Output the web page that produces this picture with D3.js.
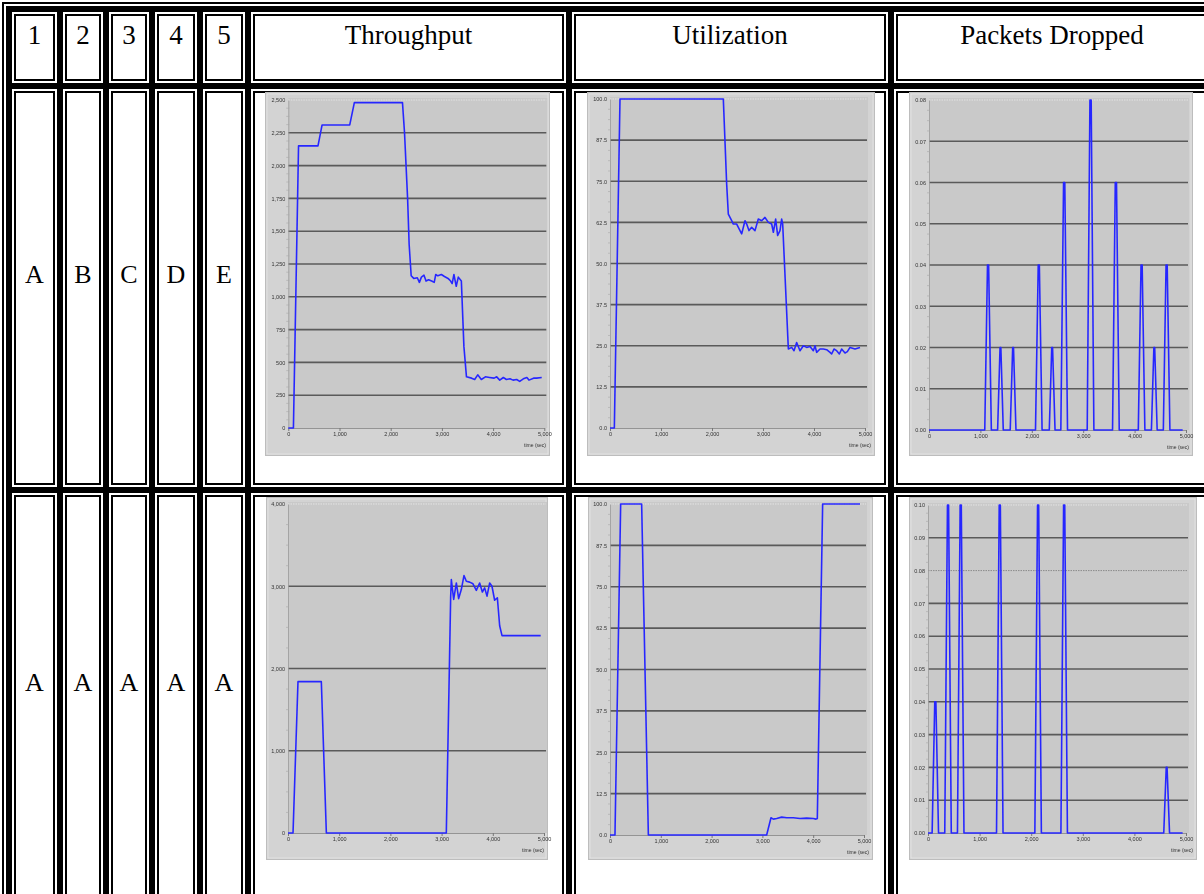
<!DOCTYPE html>
<html>
<head>
<meta charset="utf-8">
<script src="https://cdn.jsdelivr.net/npm/d3@7"></script>
<style>
  html, body { margin: 0; padding: 0; background: #fff; overflow: hidden; }
  svg { display: block; }
</style>
</head>
<body>
<svg id="fig" width="1204" height="894"></svg>
<script>
// ---- table text ----
const columnHeaders = ["1", "2", "3", "4", "5", "Throughput", "Utilization", "Packets Dropped"];
const rowLabelsTop = ["A", "B", "C", "D", "E"];
const rowLabelsBottom = ["A", "A", "A", "A", "A"];

// ---- axis ticks ----
const timeTicks = [0, 1000, 2000, 3000, 4000, 5000];
const throughputTicksTop = [0, 250, 500, 750, 1000, 1250, 1500, 1750, 2000, 2250, 2500];
const throughputTicksBottom = [0, 1000, 2000, 3000, 4000];
const utilizationTicks = [0, 12.5, 25, 37.5, 50, 62.5, 75, 87.5, 100];
const droppedTicksTop = [0, 0.01, 0.02, 0.03, 0.04, 0.05, 0.06, 0.07, 0.08];
const droppedTicksBottom = [0, 0.01, 0.02, 0.03, 0.04, 0.05, 0.06, 0.07, 0.08, 0.09, 0.10];

// ---- series: [time (sec), value] ----
const throughputTop = [
  [0, 0], [100, 0], [200, 2150], [580, 2150], [660, 2310], [1200, 2310], [1290, 2480],
  [2230, 2480], [2270, 2250], [2330, 1750], [2360, 1400], [2400, 1160], [2450, 1140],
  [2520, 1145], [2560, 1110], [2600, 1150], [2650, 1165], [2690, 1120], [2740, 1130],
  [2800, 1120], [2850, 1110], [2880, 1170], [2920, 1160], [2990, 1170], [3050, 1155],
  [3120, 1140], [3170, 1120], [3200, 1100], [3235, 1170], [3280, 1080], [3320, 1150],
  [3380, 1120], [3430, 620], [3480, 390], [3580, 380], [3640, 370], [3700, 405],
  [3770, 370], [3850, 390], [3930, 385], [4020, 380], [4070, 390], [4130, 365],
  [4200, 385], [4260, 370], [4330, 375], [4390, 365], [4460, 370], [4520, 355],
  [4590, 375], [4660, 385], [4700, 365], [4790, 380], [4850, 380], [4950, 385]
];

const utilizationTop = [
  [0, 0], [85, 0], [196, 100], [2222, 100], [2288, 74], [2320, 65], [2386, 63],
  [2418, 62], [2484, 62], [2549, 60], [2582, 59], [2647, 63], [2680, 62], [2725, 60],
  [2778, 61], [2843, 60], [2908, 63.5], [2974, 63], [3039, 64], [3105, 62.5],
  [3170, 62], [3203, 59.5], [3248, 63.5], [3288, 58.5], [3333, 60], [3366, 63.5],
  [3386, 62], [3497, 24], [3562, 24.5], [3608, 23.5], [3660, 26], [3725, 23.5],
  [3791, 25], [3856, 24.5], [3922, 24.8], [3987, 23.5], [4020, 25], [4052, 23],
  [4118, 24], [4183, 24], [4248, 23.8], [4314, 23], [4346, 22.5], [4392, 24],
  [4444, 23.5], [4497, 22.5], [4542, 24], [4608, 22.8], [4654, 23.2], [4706, 24.5],
  [4804, 24], [4902, 24.5]
];

const droppedTop = [
  [0, 0], [1085, 0], [1138, 0.04], [1160, 0.04], [1213, 0],
  [1335, 0], [1382, 0.02], [1398, 0.02], [1445, 0],
  [1580, 0], [1628, 0.02], [1644, 0.02], [1692, 0],
  [2072, 0], [2125, 0.04], [2147, 0.04], [2200, 0],
  [2340, 0], [2388, 0.02], [2404, 0.02], [2452, 0],
  [2565, 0], [2618, 0.06], [2642, 0.06], [2695, 0],
  [3078, 0], [3131, 0.08], [3155, 0.08], [3208, 0],
  [3571, 0], [3624, 0.06], [3648, 0.06], [3701, 0],
  [4072, 0], [4125, 0.04], [4147, 0.04], [4200, 0],
  [4327, 0], [4375, 0.02], [4391, 0.02], [4439, 0],
  [4559, 0], [4612, 0.04], [4634, 0.04], [4687, 0],
  [4935, 0]
];

const throughputBottom = [
  [0, 0], [98, 0], [195, 1840], [651, 1840], [749, 0], [3092, 0], [3177, 2870],
  [3190, 3080], [3236, 2840], [3288, 3040], [3333, 2850], [3385, 2960], [3437, 3130],
  [3483, 3060], [3548, 3050], [3613, 3030], [3678, 2950], [3743, 3040], [3796, 2930],
  [3841, 2980], [3887, 2880], [3939, 3040], [3984, 3000], [4036, 2830], [4089, 2860],
  [4134, 2520], [4180, 2400], [4935, 2400]
];

const utilizationBottom = [
  [0, 0], [98, 0], [210, 100], [623, 100], [755, 0], [3084, 0], [3169, 5.2],
  [3215, 4.8], [3281, 5.0], [3379, 5.4], [3478, 5.2], [3609, 5.2], [3740, 5.0],
  [3871, 5.1], [4003, 5.0], [4055, 4.8], [4081, 5.0], [4186, 100], [4921, 100]
];

const droppedBottom = [
  [0, 0], [80, 0], [131, 0.04], [153, 0.04], [204, 0],
  [325, 0], [377, 0.10], [399, 0.10], [451, 0],
  [571, 0], [623, 0.10], [645, 0.10], [697, 0],
  [1328, 0], [1380, 0.10], [1402, 0.10], [1454, 0],
  [2071, 0], [2123, 0.10], [2145, 0.10], [2197, 0],
  [2576, 0], [2628, 0.10], [2650, 0.10], [2702, 0],
  [4569, 0], [4617, 0.02], [4633, 0.02], [4681, 0],
  [4935, 0]
];

// ---- layout ----
const svg = d3.select("#fig");
const colEdges = [9, 60, 106, 152, 200, 248, 569, 891, 1213];
const rowEdges = [9, 86, 490, 904];

const defs = svg.append("defs");
defs.append("filter").attr("id", "soft")
  .attr("x", "-2%").attr("y", "-2%").attr("width", "104%").attr("height", "104%")
  .append("feGaussianBlur").attr("stdDeviation", 0.45);

svg.append("rect").attr("width", 1204).attr("height", 894).attr("fill", "#fff");

// double-line table frame: outer line, gap, heavy band
const T = svg.append("g");
const edgeL = colEdges[0], edgeT = rowEdges[0];
const edgeR = colEdges[colEdges.length - 1], edgeB = rowEdges[rowEdges.length - 1];
[[7, "#000"], [5, "#fff"], [3, "#000"]].forEach(([o, c]) => {
  T.append("rect")
    .attr("x", edgeL - o).attr("y", edgeT - o)
    .attr("width", edgeR - edgeL + 2 * o).attr("height", edgeB - edgeT + 2 * o)
    .attr("fill", c);
});

// each cell: gap, thin line, white interior
const cells = [];
for (let r = 0; r < rowEdges.length - 1; r++) {
  for (let c = 0; c < colEdges.length - 1; c++) {
    cells.push({ x0: colEdges[c], x1: colEdges[c + 1], y0: rowEdges[r], y1: rowEdges[r + 1] });
  }
}
[[3, "#fff"], [5, "#000"], [7, "#fff"]].forEach(([o, c]) => {
  T.selectAll(null).data(cells).join("rect")
    .attr("x", d => d.x0 + o).attr("y", d => d.y0 + o)
    .attr("width", d => d.x1 - d.x0 - 2 * o).attr("height", d => d.y1 - d.y0 - 2 * o)
    .attr("fill", c);
});

const serif = "'Liberation Serif', 'Times New Roman', serif";
const colCenter = i => (colEdges[i] + colEdges[i + 1]) / 2;

T.selectAll(null).data(columnHeaders).join("text")
  .attr("x", (d, i) => colCenter(i)).attr("y", 44)
  .attr("text-anchor", "middle").attr("font-family", serif).attr("font-size", 27)
  .attr("fill", "#000").text(d => d);

T.selectAll(null).data(rowLabelsTop).join("text")
  .attr("x", (d, i) => colCenter(i)).attr("y", 283)
  .attr("text-anchor", "middle").attr("font-family", serif).attr("font-size", 26)
  .attr("fill", "#000").text(d => d);

T.selectAll(null).data(rowLabelsBottom).join("text")
  .attr("x", (d, i) => colCenter(i)).attr("y", 691)
  .attr("text-anchor", "middle").attr("font-family", serif).attr("font-size", 26)
  .attr("fill", "#000").text(d => d);

// ---- small time-series charts ----
const sans = "'Liberation Sans', Arial, sans-serif";

function drawChart(cfg) {
  const g = svg.append("g").attr("filter", "url(#soft)");
  const [fx0, fy0, fx1, fy1] = cfg.frame;
  const [px0, px1, py0, py1] = cfg.plot;
  const ticks = cfg.ticks;
  const yMax = ticks[ticks.length - 1];

  const x = d3.scaleLinear().domain([0, 5000]).range([px0, px1]);
  const y = d3.scaleLinear().domain([0, yMax]).range([py0, py1]);

  // window background
  g.append("rect")
    .attr("x", fx0 + 0.5).attr("y", fy0 + 0.5)
    .attr("width", fx1 - fx0 - 1).attr("height", fy1 - fy0 - 1)
    .attr("fill", "#d3d3d3").attr("stroke", "#bdbdbd");
  g.append("rect")
    .attr("x", fx0 + 2).attr("y", fy0 + 2)
    .attr("width", fx1 - fx0 - 4).attr("height", fy1 - fy0 - 4)
    .attr("fill", "none").attr("stroke", "#e6e6e6").attr("stroke-width", 0.8);

  // plot area
  g.append("rect")
    .attr("x", x(0)).attr("y", y(yMax) - 2)
    .attr("width", x(5000) - x(0) + 3).attr("height", y(0) - y(yMax) + 2)
    .attr("fill", "#c9c9c9");

  // horizontal grid
  const dotted = cfg.dotted || [];
  const inner = ticks.filter(t => t > 0 && t < yMax);
  g.selectAll(null).data(inner).join("line")
    .attr("x1", x(0)).attr("x2", x(5000) + 2)
    .attr("y1", d => y(d)).attr("y2", d => y(d))
    .attr("stroke", d => dotted.includes(d) ? "#8a8a8a" : "#5a5a5a")
    .attr("stroke-width", d => dotted.includes(d) ? 1 : 1.6)
    .attr("stroke-dasharray", d => dotted.includes(d) ? "1.5,1" : null);
  g.append("line")
    .attr("x1", x(0)).attr("x2", x(5000) + 2)
    .attr("y1", y(yMax)).attr("y2", y(yMax))
    .attr("stroke", "#ececec").attr("stroke-width", 0.8).attr("stroke-dasharray", "1.5,1");

  // y axis
  const yAxis = d3.axisLeft(y).tickValues(ticks).tickFormat(cfg.fmt)
    .tickSize(0).tickSizeOuter(0).tickPadding(3);
  const ya = g.append("g").attr("transform", `translate(${x(0)},0)`).call(yAxis);
  ya.select(".domain").attr("stroke", "#9a9a9a").attr("stroke-width", 0.8);
  ya.selectAll("text").attr("font-family", sans).attr("font-size", 5.5).attr("fill", "#333");

  // minor dotted ticks along the y axis
  const minor = d3.range(0, ticks.length - 1).flatMap(i => {
    const a = ticks[i], b = ticks[i + 1];
    return [0.25, 0.5, 0.75].map(f => a + (b - a) * f);
  });
  g.selectAll(null).data(minor).join("line")
    .attr("x1", x(0) - 2).attr("x2", x(0) + 1)
    .attr("y1", d => y(d)).attr("y2", d => y(d))
    .attr("stroke", "#a8a8a8").attr("stroke-width", 0.6);

  // x axis
  const xAxis = d3.axisBottom(x).tickValues(timeTicks).tickFormat(d3.format(","))
    .tickSize(3).tickSizeOuter(0).tickPadding(1.5);
  const xa = g.append("g").attr("transform", `translate(0,${y(0)})`).call(xAxis);
  xa.select(".domain").attr("stroke", "#8c8c8c").attr("stroke-width", 0.9);
  xa.selectAll(".tick line").attr("stroke", "#777");
  xa.selectAll("text").attr("font-family", sans).attr("font-size", 5.5).attr("fill", "#333");

  g.append("text")
    .attr("x", fx1 - 4).attr("y", y(0) + 19)
    .attr("text-anchor", "end").attr("font-family", sans).attr("font-size", 5)
    .attr("fill", "#333").text("time (sec)");

  // series
  const line = d3.line().x(d => x(d[0])).y(d => y(d[1]));
  g.append("path").datum(cfg.data)
    .attr("d", line)
    .attr("fill", "none").attr("stroke", "#2828ff")
    .attr("stroke-width", 1.6).attr("stroke-linejoin", "round");
}

const commaFmt = d3.format(",");
const oneDec = d3.format(".1f");
const twoDec = d3.format(".2f");

drawChart({ frame: [265, 92, 550, 456], plot: [288.3, 544.3, 428, 100], ticks: throughputTicksTop, fmt: commaFmt, data: throughputTop });
drawChart({ frame: [587, 92, 875, 456], plot: [610, 865, 428, 99], ticks: utilizationTicks, fmt: oneDec, data: utilizationTop });
drawChart({ frame: [909, 92, 1193, 456], plot: [929, 1186, 430, 100], ticks: droppedTicksTop, fmt: twoDec, data: droppedTop });
drawChart({ frame: [266, 497, 548, 860], plot: [288, 544, 833, 504], ticks: throughputTicksBottom, fmt: commaFmt, data: throughputBottom });
drawChart({ frame: [588, 497, 873, 860], plot: [610, 864, 835, 504], ticks: utilizationTicks, fmt: oneDec, data: utilizationBottom });
drawChart({ frame: [909, 497, 1197, 860], plot: [928, 1186, 833, 505], ticks: droppedTicksBottom, fmt: twoDec, data: droppedBottom, dotted: [0.08] });
</script>
</body>
</html>
